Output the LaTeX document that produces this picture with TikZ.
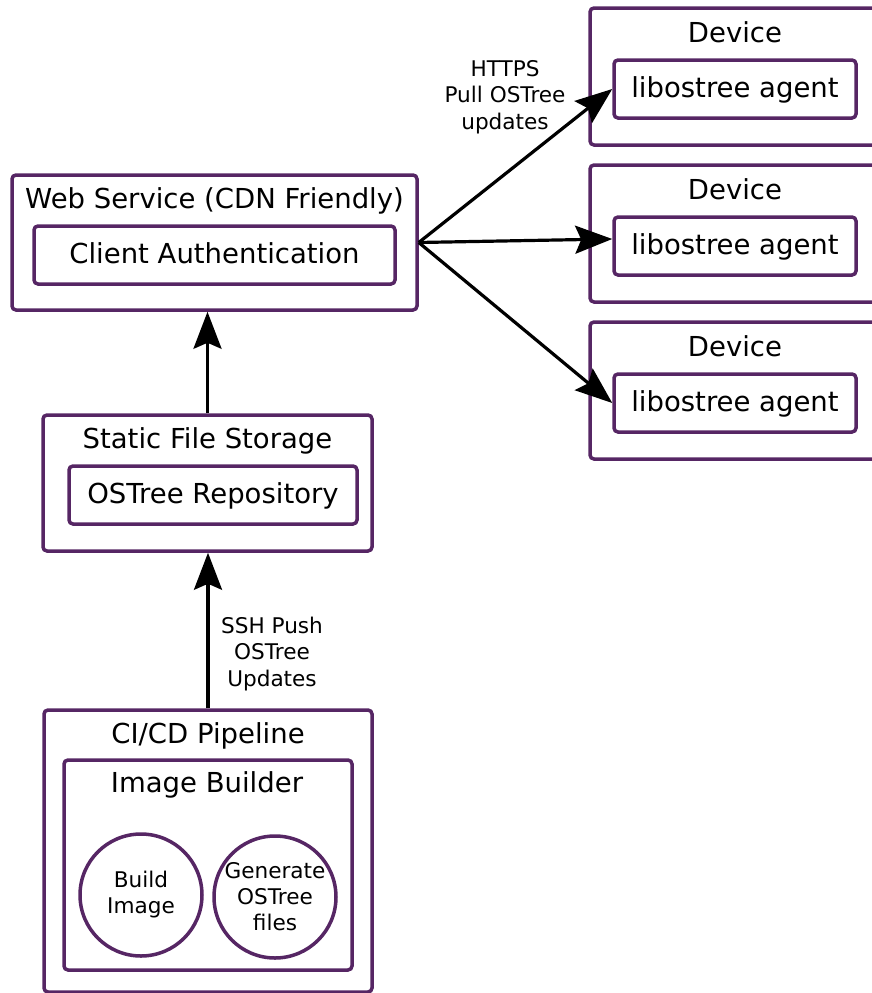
\documentclass[tikz,border=0pt]{standalone}
\usepackage{fontspec}
\setmainfont{DejaVu Sans}
\usepackage{tikz}
\usetikzlibrary{arrows.meta}
\usepackage{xcolor}
\definecolor{boxpurple}{RGB}{86,38,100}

\begin{document}
\begin{tikzpicture}[x=1pt, y=-1pt,
	box/.style={draw=boxpurple, line width=3.5pt, rounded corners=4pt, inner sep=0pt},
	circ/.style={draw=boxpurple, line width=3.5pt, circle, inner sep=0pt, minimum size=122pt, align=center, font=\fontsize{21.6}{26}\selectfont},
	bigtext/.style={anchor=base, font=\fontsize{27.5}{33}\selectfont},
	smalltext/.style={align=center, font=\fontsize{21.6}{26.3}\selectfont},
	flow/.style={line width=3.2pt, -{Stealth[length=37pt, width=28pt, inset=6pt]}}]
	\useasboundingbox (0,0) rectangle (872,993);
	\clip (0,0) rectangle (872,993);
	% web service
	\node[box, minimum width=405pt, minimum height=135pt] (web) at (214.5,242.5) {};
	\node[bigtext] (webtitle) at (214.5,208) {Web Service (CDN Friendly)};
	\node[box, minimum width=361pt, minimum height=58pt] (auth) at (214.5,255) {};
	\node[bigtext] (authtext) at (214.5,263) {Client Authentication};
	% storage
	\node[box, minimum width=329pt, minimum height=136pt] (storage) at (207.5,483) {};
	\node[bigtext] (storagetitle) at (207.5,448) {Static File Storage};
	\node[box, minimum width=288pt, minimum height=58pt] (repo) at (213,495) {};
	\node[bigtext] (repotext) at (213,503) {OSTree Repository};
	% pipeline
	\node[box, minimum width=328pt, minimum height=282pt] (cicd) at (208,851) {};
	\node[bigtext] (cicdtitle) at (208,743) {CI/CD Pipeline};
	\node[box, minimum width=288pt, minimum height=210pt] (builder) at (208,865) {};
	\node[bigtext] (buildertitle) at (207,792) {Image Builder};
	\node[circ] (build) at (141,895) {Build\\Image};
	\node[circ] (generate) at (275,897) {Generate\\OSTree\\files};
	% devices
	\foreach \i/\y in {1/76.5, 2/233.5, 3/390.5} {
		\node[box, minimum width=320pt, minimum height=137pt] (dev\i) at (750,\y) {};
		\node[bigtext] (devtitle\i) at (735,\y-34.5) {Device};
		\node[box, minimum width=242pt, minimum height=58pt] (agent\i) at (735,\y+12.5) {};
		\node[bigtext] (agenttext\i) at (735,\y+20.5) {libostree agent};
	}
	% arrows
	\draw[flow] (storage.north) -- (storage.north |- web.south);
	\draw[flow] (cicd.north) -- (cicd.north |- storage.south);
	\node[smalltext] (ssh) at (272,654) {SSH Push\\OSTree\\Updates};
	\draw[flow] (web.east) -- (agent1.west);
	\draw[flow] (web.east) -- ([yshift=7pt]agent2.west);
	\draw[flow] (web.east) -- (agent3.west);
	\node[smalltext] (https) at (505,97) {HTTPS\\Pull OSTree\\updates};
\end{tikzpicture}
\end{document}
